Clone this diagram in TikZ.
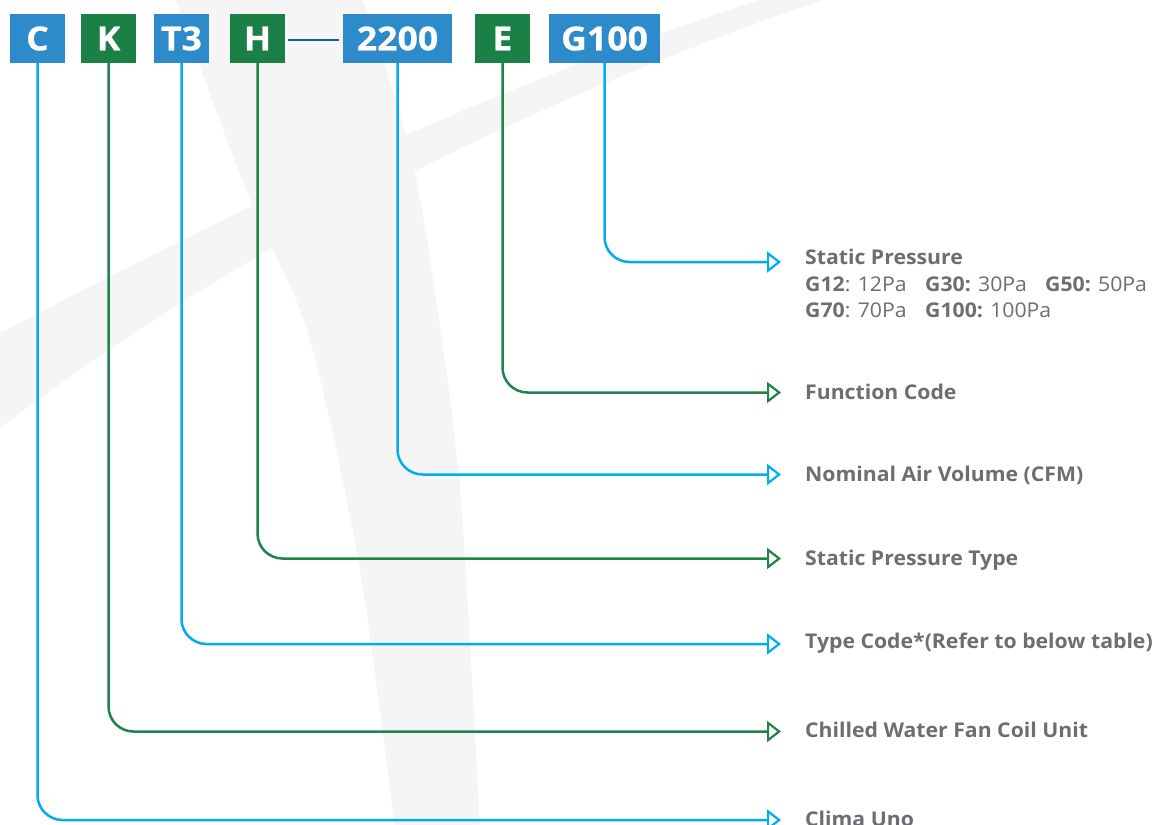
\documentclass[tikz,border=0pt]{standalone}
\usepackage{fontspec}
\setmainfont{Open Sans}
\newfontfamily\boxfont[FakeStretch=1.08, FakeBold=0.6]{Open Sans}
\newfontfamily\descfont[FakeStretch=1.045]{Open Sans}
\usetikzlibrary{arrows.meta}

\definecolor{boxblue}{HTML}{2E8BCB}
\definecolor{boxgreen}{HTML}{1B8045}
\definecolor{leadblue}{HTML}{00AEEF}
\definecolor{leadgreen}{HTML}{1F8449}
\definecolor{linkblue}{HTML}{1A5E96}
\definecolor{labelgray}{HTML}{6D6E71}
\definecolor{swoosh}{HTML}{F5F5F5}

\newcommand{\pcell}[1]{\makebox[120pt][l]{#1}}

\tikzset{
  codebox/.style={minimum width=55pt, minimum height=48.7pt, inner sep=0pt,
    text=white, font=\boxfont\bfseries\fontsize{33}{33}\selectfont,
    text height=24pt, text depth=0pt},
  bluebox/.style={codebox, fill=boxblue},
  greenbox/.style={codebox, fill=boxgreen},
  lead/.style={line width=2.5pt, rounded corners=25pt,
    -{Triangle[open, length=14pt, width=21pt, line width=2.2pt]}},
  bluelead/.style={lead, draw=leadblue},
  greenlead/.style={lead, draw=leadgreen},
  link/.style={draw=linkblue, line width=2pt},
  desc/.style={anchor=base west, inner sep=0pt, text=labelgray,
    font=\descfont\bfseries\fontsize{20.3}{26.5}\selectfont},
}

\begin{document}
\begin{tikzpicture}[x=1pt, y=-1pt]
\useasboundingbox (0,0) rectangle (1155,824);
\clip (0,0) rectangle (1155,824);
\fill[white] (0,0) rectangle (1155,824);

% faint background swooshes
\fill[swoosh] (0,333) .. controls (200,230) and (450,100) .. (759,0)
  -- (822,0) .. controls (560,90) and (260,230) .. (0,428) -- cycle;
\fill[swoosh] plot[smooth] coordinates {(175,-2) (250,200) (308,333) (359,564) (395,830)}
  -- plot[smooth] coordinates {(480,830) (462,513) (441,333) (410,150) (362,-2)} -- cycle;

% code boxes
\node[bluebox]  (C)  at (37.5,38.3)  {C};
\node[greenbox] (K)  at (108.5,38.3) {K};
\node[bluebox]  (T3) at (181.5,38.3) {T3};
\node[greenbox] (H)  at (257.5,38.3) {H};
\node[bluebox, minimum width=108.4pt] (N) at (397.5,38.3) {2200};
\node[greenbox] (E)  at (502.5,38.3) {E};
\node[bluebox, minimum width=111pt]   (G) at (604.5,38.3) {G100};

\draw[link, shorten <=3pt, shorten >=4pt] ([yshift=-1.7pt]H.east) -- ([yshift=-1.7pt]N.west);

% arrow ends
\coordinate (aG) at (781,262);
\coordinate (aE) at (781,392.5);
\coordinate (aN) at (781,474.5);
\coordinate (aH) at (781,558.5);
\coordinate (aT) at (781,644);
\coordinate (aK) at (781,731.5);
\coordinate (aC) at (781,820);

% leaders
\draw[bluelead]  (G.south)  |- (aG);
\draw[greenlead] (E.south)  |- (aE);
\draw[bluelead]  (N.south)  |- (aN);
\draw[greenlead] (H.south)  |- (aH);
\draw[bluelead]  (T3.south) |- (aT);
\draw[greenlead] (K.south)  |- (aK);
\draw[bluelead]  (C.south)  |- (aC);

% descriptions
\node[desc] (lG) at (805,264.5) {%
  \begin{tabular}[t]{@{}l@{}l@{}l@{}}
  \multicolumn{3}{@{}l@{}}{Static Pressure}\\
  \pcell{G12\mdseries: 12Pa} & \pcell{G30: \mdseries 30Pa} & G50: \mdseries 50Pa\\
  \pcell{G70\mdseries: 70Pa} & \pcell{G100: \mdseries 100Pa} &
  \end{tabular}};
\node[desc] (lE) at (805,399.3) {Function Code};
\node[desc] (lN) at (805,481.5) {Nominal Air Volume (CFM)};
\node[desc] (lH) at (805,565)   {Static Pressure Type};
\node[desc] (lT) at (805,648.5) {Type Code*(Refer to below table)};
\node[desc] (lK) at (805,737.3) {Chilled Water Fan Coil Unit};
\node[desc] (lC) at (805,826)   {Clima Uno};
\end{tikzpicture}
\end{document}
